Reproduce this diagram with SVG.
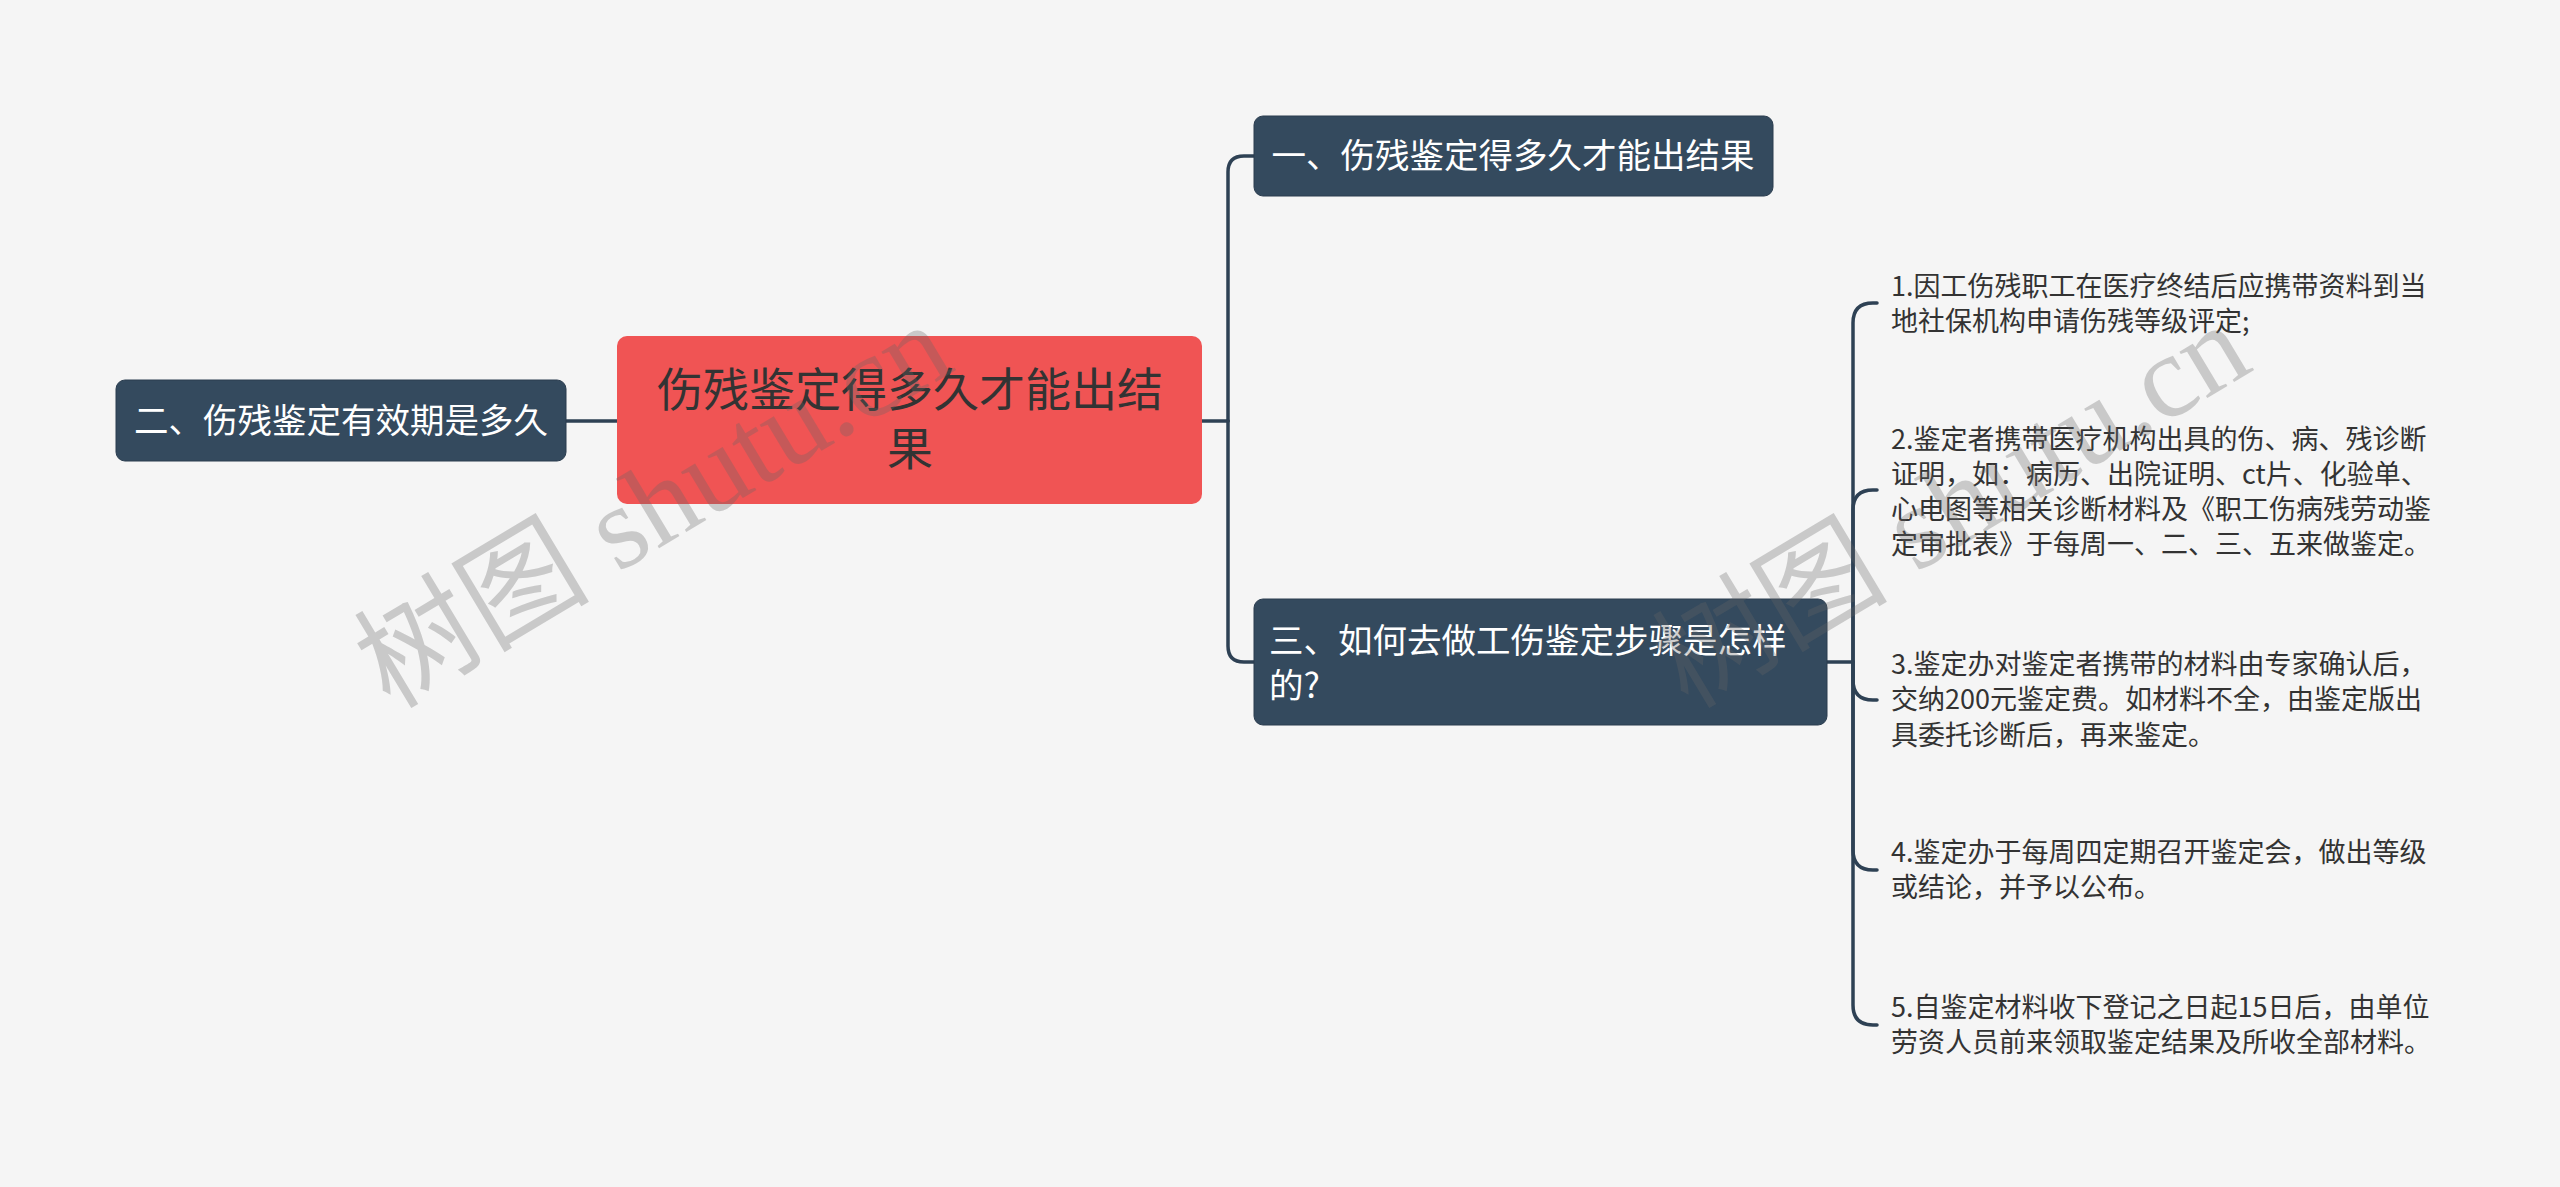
<svg xmlns="http://www.w3.org/2000/svg" width="2560" height="1187" viewBox="0 0 2560 1187">
<style>
.bg{fill:#f5f5f5}
.sub rect{fill:#344a5e;stroke:#2b3d4f;stroke-width:1}
.sub text{fill:#ffffff;font-family:"Noto Sans CJK SC","Noto Sans",sans-serif;font-size:34.5px}
.root rect{fill:#f05454}
.root text{fill:#333333;font-family:"Noto Sans CJK SC","Noto Sans",sans-serif;font-size:46px}
.leaf text{fill:#333333;font-family:"Noto Sans CJK SC","Noto Sans",sans-serif;font-size:27px}
.conn path{fill:none;stroke:#2e4154;stroke-width:3.5;stroke-linecap:round}
.wm{fill:#666666;opacity:0.3;font-family:"Liberation Serif","Noto Sans CJK SC",serif;font-size:118px}
</style>
<rect class="bg" x="0" y="0" width="2560" height="1187"/>
<g id="connectors" class="conn">
<path d="M566,421 L617,421"/>
<path d="M1202,421 L1228,421"/>
<path d="M1228,421 L1228,172 Q1228,156 1244,156 L1254,156"/>
<path d="M1228,421 L1228,646 Q1228,662 1244,662 L1254,662"/>
<path d="M1827,662 L1853,662"/>
<path d="M1853,662 L1853,323 Q1853,303 1873,303 L1877,303"/>
<path d="M1853,662 L1853,510 Q1853,490 1873,490 L1877,490"/>
<path d="M1853,662 L1853,680 Q1853,700 1873,700 L1877,700"/>
<path d="M1853,662 L1853,850 Q1853,870 1873,870 L1877,870"/>
<path d="M1853,662 L1853,1005 Q1853,1025 1873,1025 L1877,1025"/>
</g>
<g id="root" class="root">
<rect x="617" y="336" width="585" height="168" rx="10"/>
<text x="910" y="406" text-anchor="middle">伤残鉴定得多久才能出结</text>
<text x="910" y="465" text-anchor="middle">果</text>
</g>
<g id="node-2" class="sub">
<rect x="116" y="380" width="450" height="81" rx="9"/>
<text x="341" y="433" text-anchor="middle">二、伤残鉴定有效期是多久</text>
</g>
<g id="node-1" class="sub">
<rect x="1254" y="116" width="519" height="80" rx="9"/>
<text x="1513" y="168" text-anchor="middle">一、伤残鉴定得多久才能出结果</text>
</g>
<g id="node-3" class="sub">
<rect x="1254" y="599" width="573" height="126" rx="9"/>
<text x="1269" y="653">三、如何去做工伤鉴定步骤是怎样</text>
<text x="1269" y="698">的?</text>
</g>
<g id="leaf-1" class="leaf">
<text x="1891" y="296">1.因工伤残职工在医疗终结后应携带资料到当</text>
<text x="1891" y="331">地社保机构申请伤残等级评定;</text>
</g>
<g id="leaf-2" class="leaf">
<text x="1891" y="449">2.鉴定者携带医疗机构出具的伤、病、残诊断</text>
<text x="1891" y="484">证明，如：病历、出院证明、ct片、化验单、</text>
<text x="1891" y="519">心电图等相关诊断材料及《职工伤病残劳动鉴</text>
<text x="1891" y="554">定审批表》于每周一、二、三、五来做鉴定。</text>
</g>
<g id="leaf-3" class="leaf">
<text x="1891" y="674">3.鉴定办对鉴定者携带的材料由专家确认后，</text>
<text x="1891" y="709">交纳200元鉴定费。如材料不全，由鉴定版出</text>
<text x="1891" y="745">具委托诊断后，再来鉴定。</text>
</g>
<g id="leaf-4" class="leaf">
<text x="1891" y="862">4.鉴定办于每周四定期召开鉴定会，做出等级</text>
<text x="1891" y="897">或结论，并予以公布。</text>
</g>
<g id="leaf-5" class="leaf">
<text x="1891" y="1017">5.自鉴定材料收下登记之日起15日后，由单位</text>
<text x="1891" y="1052">劳资人员前来领取鉴定结果及所收全部材料。</text>
</g>
<text class="wm" transform="translate(390,710) rotate(-31)">树图 shutu.cn</text>
<text class="wm" transform="translate(1688,710) rotate(-31)">树图 shutu.cn</text>
</svg>
